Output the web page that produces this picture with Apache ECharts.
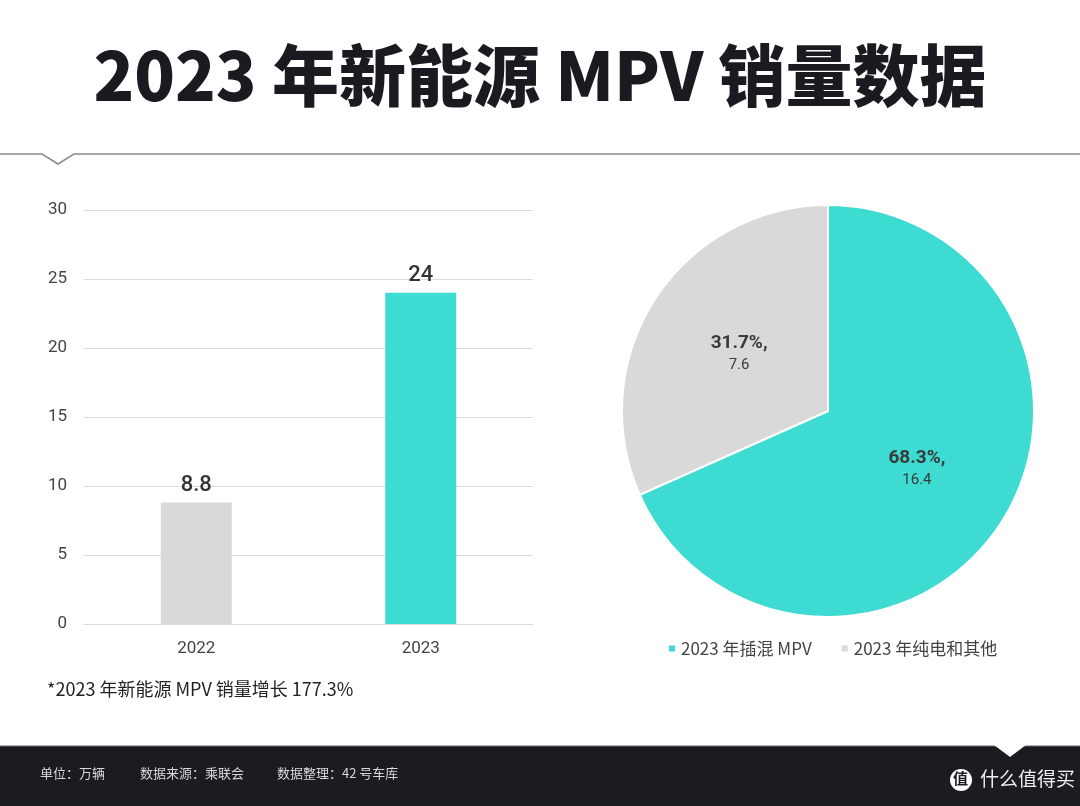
<!DOCTYPE html>
<html><head><meta charset="utf-8">
<script src="https://cdn.jsdelivr.net/npm/echarts@6/dist/echarts.min.js"></script>
<style>html,body{margin:0;padding:0;background:#fff}#c{width:1080px;height:806px}</style>
</head><body><div id="c"></div>
<script>
const years = ['2022', '2023'];
const sales = [8.8, 24];
const barColors = ['#d9d9d9', '#3ddbd2'];
const pieNames = ['2023 年插混 MPV', '2023 年纯电和其他'];
const pieValues = [16.4, 7.6];
const piePercents = ['68.3%', '31.7%'];
const pieColors = ['#3ddbd2', '#d9d9d9'];
const yTicks = [0, 5, 10, 15, 20, 25, 30];

const FONT = '"Noto Sans CJK SC", "Noto Sans", sans-serif';
const chart = echarts.init(document.getElementById('c'));
chart.setOption({
  backgroundColor: '#fff',
  textStyle: { fontFamily: FONT },
  title: {
    text: '2023 年新能源 MPV 销量数据',
    left: 'center', top: 37,
    textStyle: { fontSize: 67, fontWeight: 900, color: '#1a1b20', fontFamily: FONT }
  },
  legend: {
    data: pieNames,
    left: 662, top: 635,
    icon: 'rect', itemWidth: 8, itemHeight: 8, itemGap: 28,
    textStyle: { fontSize: 17, color: '#444', fontFamily: FONT }
  },
  grid: { left: 84, right: 547, top: 210, bottom: 182 },
  xAxis: {
    type: 'category', data: years,
    axisLine: { show: true, lineStyle: { color: '#dcdcdc' } },
    axisTick: { show: false },
    axisLabel: { fontSize: 17, color: '#444', margin: 16, fontFamily: 'Roboto, sans-serif' }
  },
  yAxis: {
    type: 'value', min: yTicks[0], max: yTicks[yTicks.length - 1], interval: 5,
    axisLine: { show: false }, axisTick: { show: false },
    axisLabel: { fontSize: 17, color: '#444', margin: 17, fontFamily: 'Roboto, sans-serif' },
    splitLine: { lineStyle: { color: '#dcdcdc', width: 1 } }
  },
  series: [
    {
      type: 'bar',
      data: sales.map((v, i) => ({ value: v, itemStyle: { color: barColors[i] } })),
      barWidth: 71,
      label: { show: true, position: 'top', distance: 6, fontSize: 22, fontWeight: 500, color: '#333', fontFamily: 'Roboto, sans-serif' }
    },
    {
      type: 'pie',
      center: [828, 411], radius: 206,
      startAngle: 90, clockwise: true,
      itemStyle: { borderColor: '#fff', borderWidth: 2 },
      label: {
        show: true, position: 'inside',
        formatter: p => '{a|' + piePercents[p.dataIndex] + ',}\n{b|' + p.value + '}',
        rich: {
          a: { fontSize: 19, fontWeight: 'bold', color: '#3a3a3a', lineHeight: 23, fontFamily: 'Roboto, sans-serif' },
          b: { fontSize: 15, color: '#3a3a3a', lineHeight: 21, fontFamily: 'Roboto, sans-serif' }
        }
      },
      labelLine: { show: false },
      data: pieNames.map((n, i) => ({ name: n, value: pieValues[i], itemStyle: { color: pieColors[i] } }))
    }
  ],
  graphic: [
    { type: 'polyline', shape: { points: [[0, 154], [42, 154], [58, 164], [74, 154], [1080, 154]] },
      style: { stroke: '#8a8a8a', lineWidth: 1.5, fill: null } },
    { type: 'text', left: 47, top: 680,
      style: { text: '*2023 年新能源 MPV 销量增长 177.3%', font: '18px ' + FONT, fill: '#222' } },
    { type: 'rect', shape: { x: 0, y: 746, width: 1080, height: 60 }, style: { fill: '#1b1c22' } },
    { type: 'line', shape: { x1: 0, y1: 746, x2: 1080, y2: 746 }, style: { stroke: '#6a6a6a', lineWidth: 1 } },
    { type: 'polygon', shape: { points: [[994, 745], [1026, 745], [1010, 757]] }, style: { fill: '#fff' } },
    { type: 'text', left: 40, top: 767, style: { text: '单位：万辆', font: '13px ' + FONT, fill: '#d8d8d8' } },
    { type: 'text', left: 140, top: 767, style: { text: '数据来源：乘联会', font: '13px ' + FONT, fill: '#d8d8d8' } },
    { type: 'text', left: 277, top: 767, style: { text: '数据整理：42 号车库', font: '13px ' + FONT, fill: '#d8d8d8' } },
    { type: 'circle', shape: { cx: 961, cy: 780, r: 11 }, style: { fill: '#fff' } },
    { type: 'text', left: 953, top: 771, style: { text: '值', font: 'bold 15px ' + FONT, fill: '#1b1c22' } },
    { type: 'text', left: 980, top: 769, style: { text: '什么值得买', font: '19px ' + FONT, fill: '#f0f0f0' } }
  ]
});
</script></body></html>
